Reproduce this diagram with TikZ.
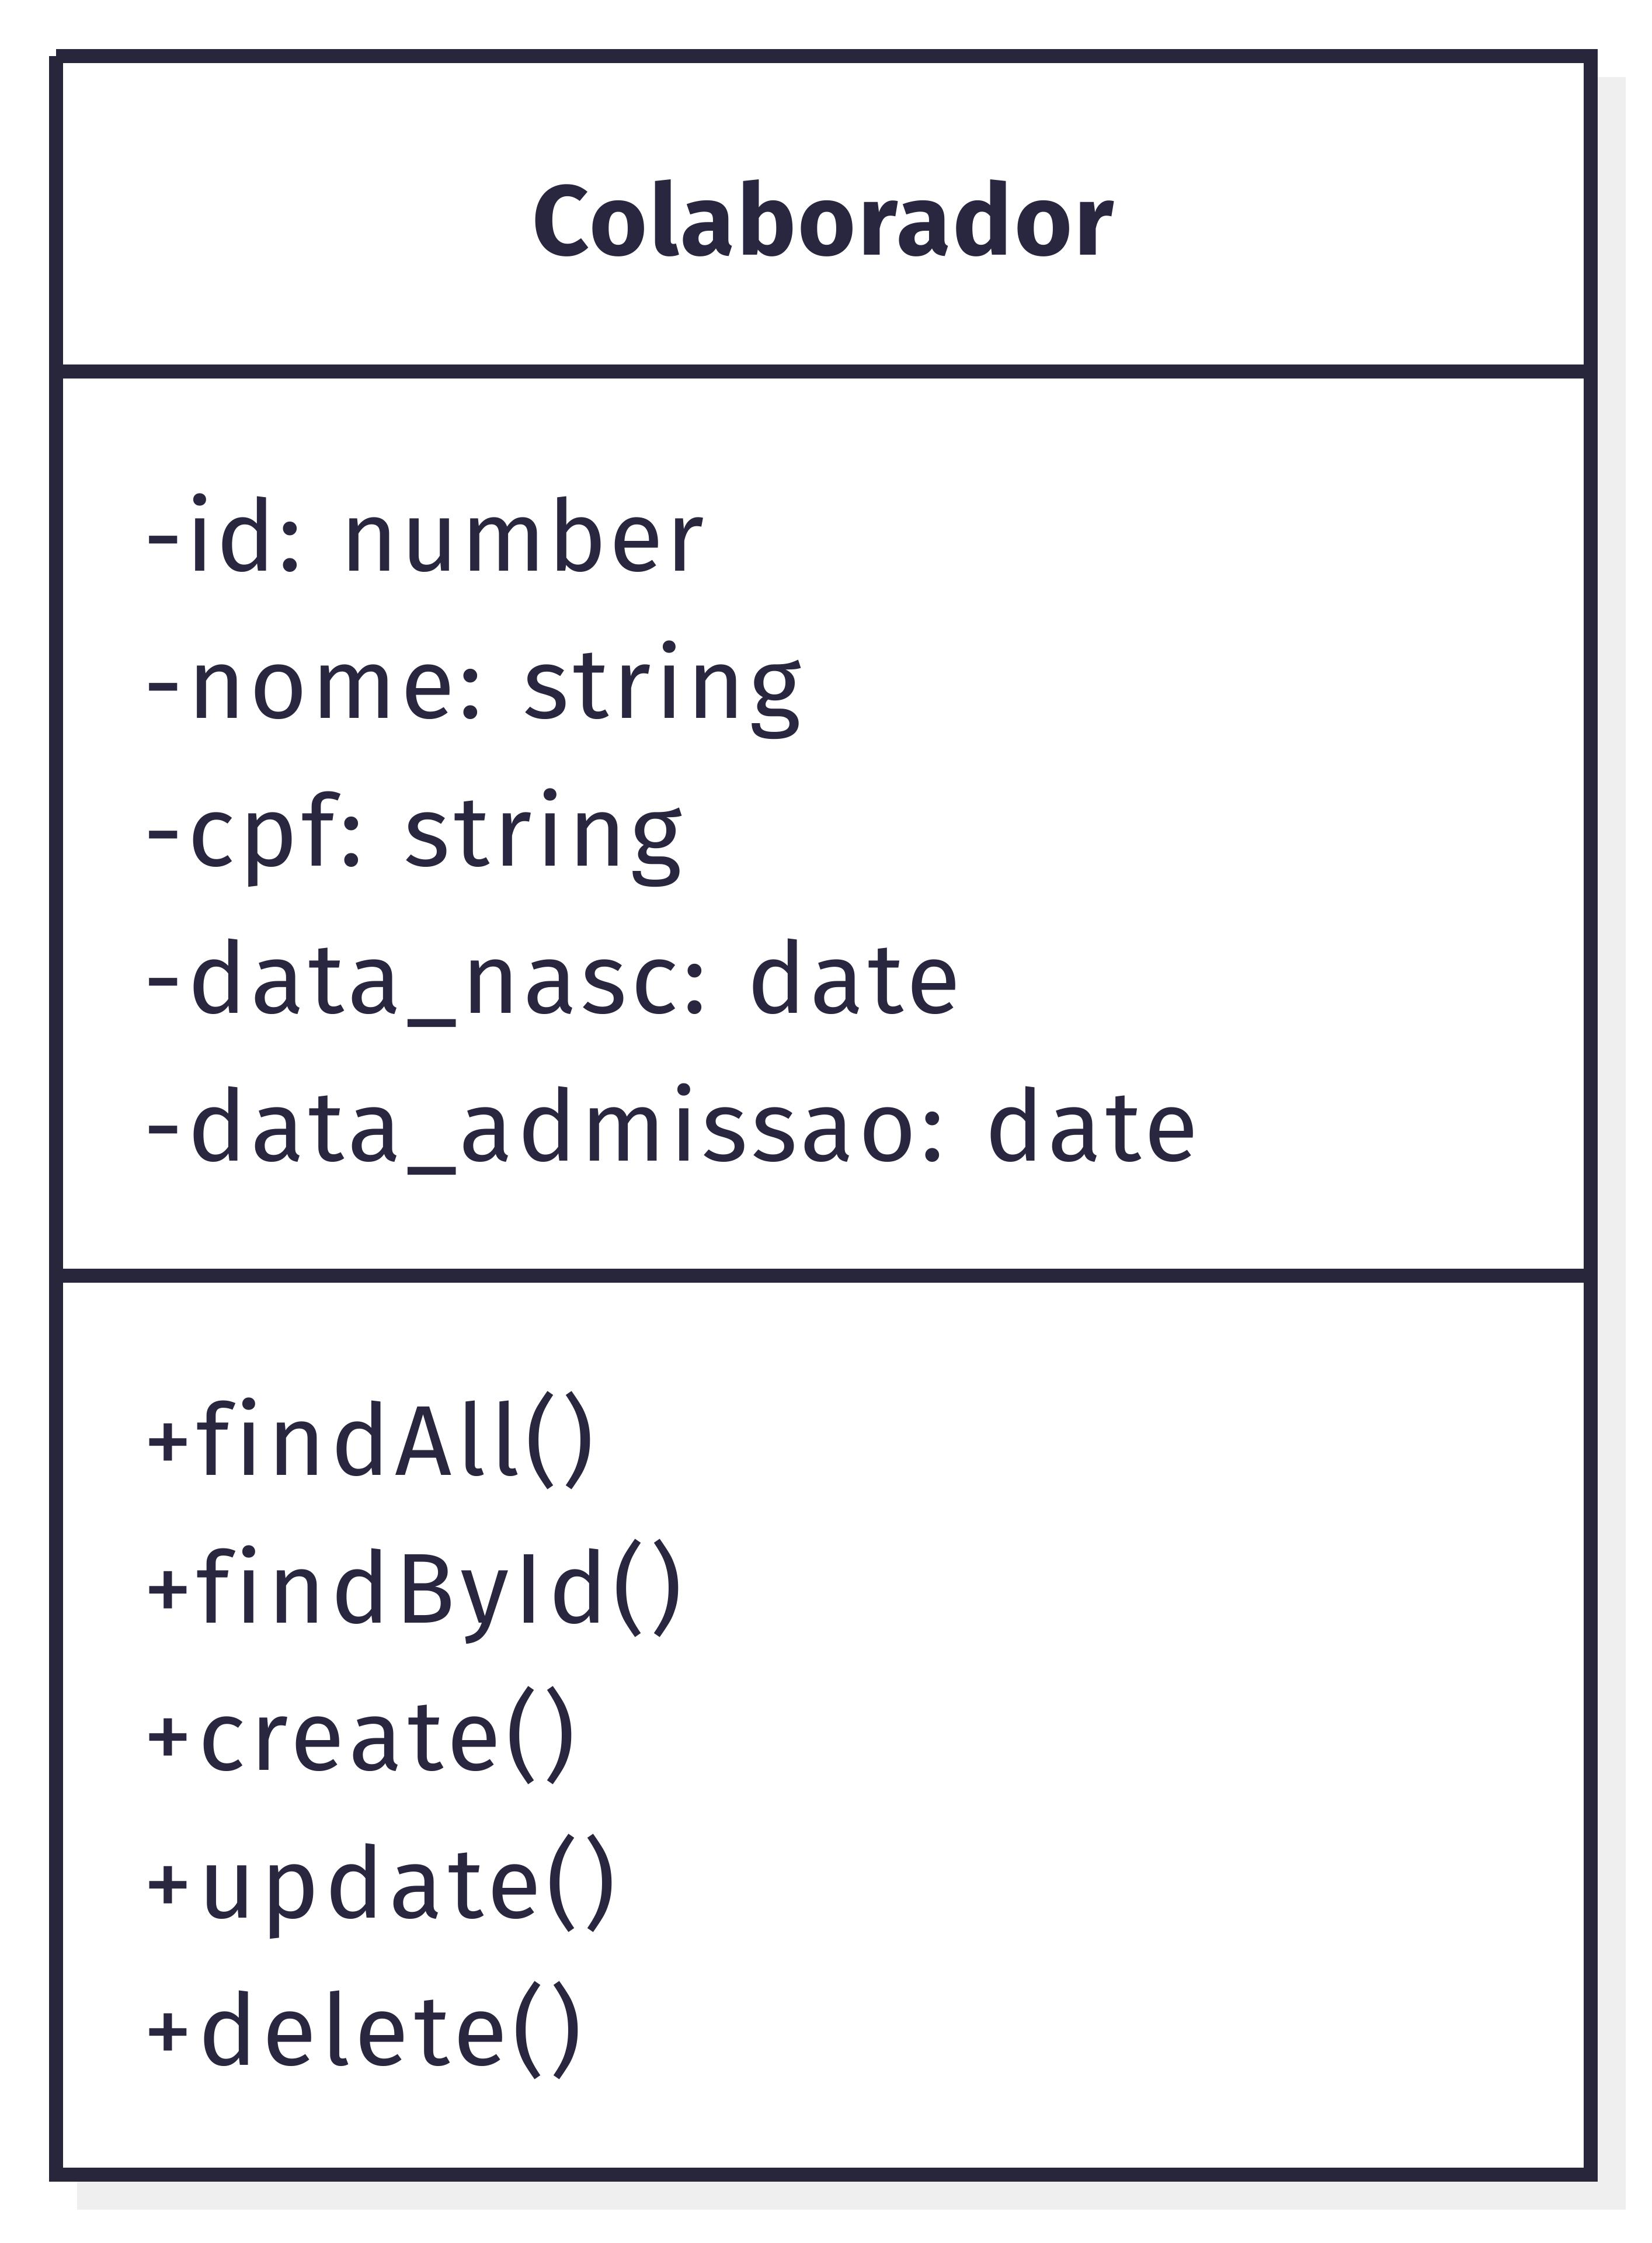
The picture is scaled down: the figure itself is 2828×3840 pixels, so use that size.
\documentclass[tikz,border=0pt]{standalone}
\usepackage{fontspec}
\setmainfont[Ligatures=NoCommon]{Fira Sans}
\newfontfamily\memberfont[Ligatures=NoCommon, LetterSpace=4]{Fira Sans}
\newfontfamily\tightmemberfont[Ligatures=NoCommon, LetterSpace=2.4]{Fira Sans}
\newfontfamily\methodfont[Ligatures=NoCommon, LetterSpace=5]{Fira Sans}
\newfontfamily\titlefont[Ligatures=NoCommon, LetterSpace=2]{Fira Sans}
\usepackage{tikz}
\definecolor{ink}{HTML}{27263B}
\definecolor{txt}{HTML}{29263F}
\definecolor{shadowgray}{HTML}{EFEFEF}
\tikzset{
  border/.style={draw=ink, line width=6pt, line cap=butt},
  member/.style={anchor=base west, inner sep=0pt, text=txt, font=\memberfont\fontsize{42.5pt}{50pt}\selectfont},
  tightmember/.style={member, font=\tightmemberfont\fontsize{42.5pt}{50pt}\selectfont},
  method/.style={member, font=\methodfont\fontsize{42.5pt}{50pt}\selectfont},
  classtitle/.style={anchor=base, inner sep=0pt, text=txt, font=\titlefont\fontsize{42.5pt}{50pt}\selectfont\bfseries}
}
\begin{document}
\begin{tikzpicture}[x=0.25pt, y=-0.25pt]
\useasboundingbox (0,0) rectangle (2828,3840);
\fill[white] (0,0) rectangle (2828,3840);
% shadow
\fill[shadowgray] (132,132) rectangle (2784,3783);
\fill[white] (84,84) rectangle (2736,3735);
% box borders
\coordinate (tl) at (96,96);
\coordinate (tr) at (2736,96);
\coordinate (rt) at (2724,84);
\coordinate (rb) at (2724,3735);
\coordinate (br) at (2736,3723);
\coordinate (bl) at (84,3723);
\coordinate (lb) at (96,3735);
\coordinate (lt) at (96,96);
\draw[border] (tl) -- (tr);
\draw[border] (rt) -- (rb);
\draw[border] (br) -- (bl);
\draw[border] (lb) -- (lt);
% dividers
\coordinate (d1l) at (108,636);
\coordinate (d1r) at (2712,636);
\coordinate (d2l) at (108,2184);
\coordinate (d2r) at (2712,2184);
\draw[border] (d1l) -- (d1r);
\draw[border] (d2l) -- (d2r);
% title
\node[classtitle] (name) at (1410,437) {Colaborador};
% attributes
\node[tightmember] (a1) at (245,977) {-id: number};
\node[member] (a2) at (245,1229.5) {-nome: string};
\node[member] (a3) at (245,1482) {-cpf: string};
\node[member] (a4) at (245,1734.5) {-data\_nasc: date};
\node[member] (a5) at (245,1987) {-data\_admissao: date};
% methods
\node[method] (m1) at (245,2525.5) {+findAll()};
\node[method] (m2) at (245,2778) {+findById()};
\node[method] (m3) at (245,3030.5) {+create()};
\node[method] (m4) at (245,3283) {+update()};
\node[method] (m5) at (245,3535.5) {+delete()};
\end{tikzpicture}
\end{document}
